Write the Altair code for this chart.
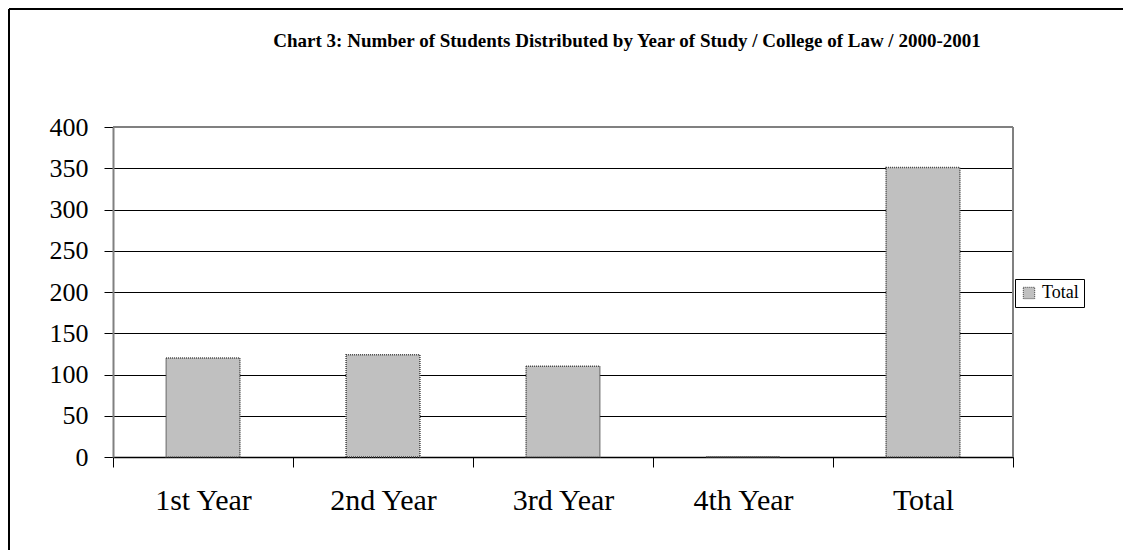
import altair as alt
import pandas as pd

categories = ["1st Year", "2nd Year", "3rd Year", "4th Year", "Total"]
values = [120, 124, 110, 0, 351]
series = ["Total"] * 5
title_text = "Chart 3: Number of Students Distributed by Year of Study / College of Law / 2000-2001"

df = pd.DataFrame({"category": categories, "value": values, "series": series})
title_df = pd.DataFrame({"t": [title_text]})

W, H = 900, 330
PAD = {"left": 105, "top": 119, "right": 110, "bottom": 93}

base = alt.Chart(df)

bars = base.mark_bar(
    width={"band": 0.41},
    stroke="#404040",
    strokeWidth=1.5,
    strokeDash=[1, 1],
).encode(
    x=alt.X(
        "category:N",
        sort=categories,
        scale=alt.Scale(paddingInner=0, paddingOuter=0),
        axis=alt.Axis(
            title=None,
            labelAngle=0,
            tickBand="extent",
            labelFont="Liberation Serif",
            labelFontSize=30,
            labelColor="black",
            labelPadding=18,
            tickSize=10,
            tickColor="black",
            tickWidth=1,
            domainColor="black",
            domainWidth=1.5,
            grid=False,
        ),
    ),
    y=alt.Y(
        "value:Q",
        scale=alt.Scale(domain=[0, 400], nice=False),
        axis=alt.Axis(
            title=None,
            values=[0, 50, 100, 150, 200, 250, 300, 350, 400],
            labelFont="Liberation Serif",
            labelFontSize=26,
            labelColor="black",
            labelPadding=16,
            tickSize=9,
            tickColor="black",
            tickWidth=1,
            domainColor="#808080",
            domainWidth=2,
            grid=True,
            gridColor="black",
            gridWidth=1,
            gridOpacity=1,
        ),
    ),
    fill=alt.Fill(
        "series:N",
        scale=alt.Scale(range=["#C0C0C0"]),
        legend=alt.Legend(
            title=None,
            orient="none",
            legendX=902,
            legendY=152,
            strokeColor="black",
            fillColor="white",
            padding=5,
            labelFont="Liberation Serif",
            labelFontSize=18,
            labelColor="black",
            symbolType="square",
            symbolSize=130,
            symbolStrokeColor="#404040",
            symbolStrokeWidth=1,
            symbolDash=[1, 1],
        ),
    ),
)

title = alt.Chart(title_df).mark_text(
    font="Liberation Serif",
    fontSize=19,
    fontWeight="bold",
    color="black",
    align="center",
    baseline="alphabetic",
).encode(x=alt.value(514), y=alt.value(-80), text="t:N")

frame_top = base.mark_rule(color="black", strokeWidth=2).encode(
    x=alt.value(-104), x2=alt.value(W + 110), y=alt.value(-118)
)
frame_left = base.mark_rule(color="black", strokeWidth=2).encode(
    x=alt.value(-104), y=alt.value(-118), y2=alt.value(H + 93)
)
plot_top = base.mark_rule(color="#808080", strokeWidth=2).encode(
    x=alt.value(0), x2=alt.value(W), y=alt.value(0)
)
plot_right = base.mark_rule(color="#808080", strokeWidth=2).encode(
    x=alt.value(W), y=alt.value(0), y2=alt.value(H)
)

chart = alt.layer(frame_top, frame_left, plot_top, plot_right, bars, title).properties(
    width=W,
    height=H,
    padding=PAD,
    autosize=alt.AutoSizeParams(type="none"),
).configure_view(stroke=None)

chart.save("out.html", embed_options={"renderer": "svg", "actions": False})
